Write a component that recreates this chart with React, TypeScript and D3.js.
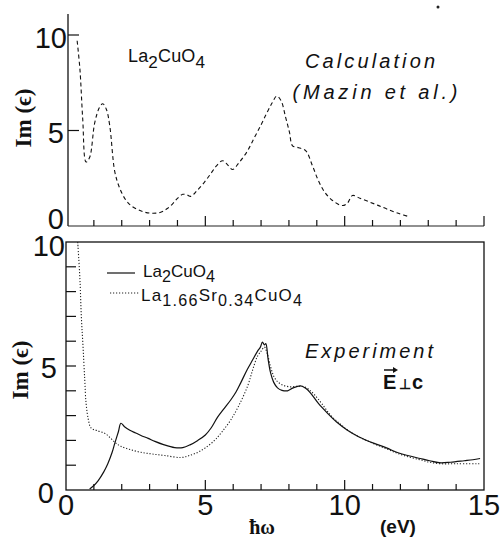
import React from "react";
import * as d3 from "d3";

// ---- Data ----
const calcE = [0.40, 0.50, 0.60, 0.72, 0.85, 1.03, 1.20, 1.32, 1.45, 1.57, 1.75, 1.93, 2.15, 2.35, 2.70, 3.05, 3.40, 3.65, 3.85, 4.00, 4.19, 4.35, 4.48, 4.70, 4.97, 5.20, 5.40, 5.62, 5.80, 5.98, 6.20, 6.50, 6.75, 7.00, 7.20, 7.40, 7.56, 7.72, 7.88, 8.02, 8.13, 8.35, 8.60, 8.84, 9.05, 9.27, 9.55, 9.92, 10.10, 10.28, 10.55, 10.92, 11.20, 11.53, 11.95, 12.35];
const calcIm = [9.7, 8.2, 5.6, 3.35, 3.6, 5.4, 6.2, 6.4, 6.1, 5.25, 2.85, 1.97, 1.35, 1.05, 0.78, 0.67, 0.72, 0.93, 1.2, 1.45, 1.66, 1.62, 1.55, 1.85, 2.3, 2.75, 3.15, 3.42, 3.2, 2.96, 3.3, 3.9, 4.6, 5.3, 5.9, 6.45, 6.8, 6.55, 5.7, 4.9, 4.2, 4.1, 3.95, 3.17, 2.4, 1.8, 1.35, 1.07, 1.2, 1.6, 1.45, 1.24, 1.08, 0.88, 0.65, 0.47];

const laE = [0.85, 1.0, 1.15, 1.35, 1.5, 1.65, 1.75, 1.88, 1.97, 2.1, 2.29, 2.5, 2.69, 2.95, 3.19, 3.5, 3.9, 4.19, 4.45, 4.73, 5.0, 5.2, 5.44, 5.65, 5.91, 6.1, 6.27, 6.5, 6.7, 6.87, 6.97, 7.05, 7.12, 7.17, 7.25, 7.34, 7.45, 7.59, 7.75, 7.95, 8.15, 8.42, 8.6, 8.77, 9.05, 9.38, 9.7, 10.1, 10.5, 11.06, 11.5, 11.89, 12.3, 12.71, 13.05, 13.39, 13.8, 14.29, 14.6, 14.86];
const laIm = [0.04, 0.18, 0.37, 0.72, 1.06, 1.5, 1.88, 2.35, 2.69, 2.55, 2.41, 2.3, 2.2, 2.08, 1.96, 1.83, 1.71, 1.71, 1.82, 2.0, 2.22, 2.49, 2.94, 3.25, 3.63, 3.95, 4.32, 4.85, 5.25, 5.59, 5.75, 5.96, 5.85, 5.9, 5.3, 4.73, 4.35, 4.12, 4.02, 4.0, 4.12, 4.2, 4.1, 3.92, 3.5, 3.1, 2.75, 2.41, 2.15, 1.88, 1.7, 1.51, 1.38, 1.27, 1.18, 1.1, 1.12, 1.18, 1.22, 1.27];

const srE = [0.42, 0.5, 0.55, 0.61, 0.67, 0.72, 0.8, 0.9, 1.1, 1.4, 1.61, 1.8, 1.97, 2.3, 2.69, 3.1, 3.54, 4.12, 4.4, 4.73, 5.0, 5.33, 5.6, 5.91, 6.2, 6.52, 6.7, 6.87, 7.0, 7.12, 7.22, 7.34, 7.45, 7.59, 7.8, 8.06, 8.3, 8.56, 8.75, 8.92, 9.2, 9.49, 9.8, 10.1, 10.5, 11.06, 11.5, 11.89, 12.3, 12.71, 13.05, 13.43, 14.0, 14.86];
const srIm = [10.0, 8.5, 7.0, 5.8, 4.5, 3.5, 2.85, 2.5, 2.4, 2.28, 2.08, 1.88, 1.76, 1.63, 1.52, 1.45, 1.39, 1.31, 1.38, 1.52, 1.7, 2.0, 2.35, 2.82, 3.4, 4.2, 4.85, 5.39, 5.6, 5.76, 5.5, 4.98, 4.6, 4.37, 4.22, 4.16, 4.18, 4.16, 4.02, 3.84, 3.45, 3.02, 2.7, 2.42, 2.15, 1.86, 1.66, 1.48, 1.33, 1.22, 1.12, 1.06, 1.06, 1.06];

const xTickLabels = [0, 5, 10, 15];
const topYTicks = [0, 5, 10];
const bottomYTicks = [0, 5, 10];

// ---- Layout ----
const W = 502, H = 537;
const x = d3.scaleLinear().domain([0, 15]).range([66, 484]);
const yTop = d3.scaleLinear().domain([0, 10]).range([226, 35]);
const yBot = d3.scaleLinear().domain([0, 10]).range([490, 242]);

// label placement tweaks (reference layout)
const topLabelPos: Record<number, [number, number]> = { 10: [67, 13], 5: [64, 12], 0: [64, 3] };
const botLabelPos: Record<number, [number, number]> = { 10: [65, 14], 5: [57, 12], 0: [54, 13] };

const SANS = "'Liberation Sans', Arial, Helvetica, sans-serif";
const SERIF = "'Liberation Serif', 'Times New Roman', serif";

type Part = { t: string; s?: "sub" | "norm" };
function Formula({ parts, x0, y0, size, len }: { parts: Part[]; x0: number; y0: number; size: number; len?: number }) {
  let cur = 0;
  const spans = parts.map((p, i) => {
    const target = p.s === "sub" ? size * 0.32 : 0;
    const dy = target - cur;
    cur = target;
    return (
      <tspan key={i} dy={dy} fontSize={p.s === "sub" ? size * 0.95 : size}>
        {p.t}
      </tspan>
    );
  });
  return (
    <text x={x0} y={y0} fontFamily={SANS} fontSize={size} fill="#111"
      textLength={len} lengthAdjust={len ? "spacing" : undefined}>
      {spans}
    </text>
  );
}

export default function App() {
  const lineTop = d3.line<number>().x((_, i) => x(calcE[i])).y((d) => yTop(d)).curve(d3.curveCatmullRom.alpha(0.5));
  const lineLa = d3.line<number>().x((_, i) => x(laE[i])).y((d) => yBot(d)).curve(d3.curveCatmullRom.alpha(0.5));
  const lineSr = d3.line<number>().x((_, i) => x(srE[i])).y((d) => yBot(d)).curve(d3.curveCatmullRom.alpha(0.5));

  const units = d3.range(0, 16);
  const tickFont = { fontFamily: SANS, fontSize: 29, fontWeight: 300, fill: "#111" } as const;

  return (
    <div style={{ position: "fixed", left: 0, top: 0 }}>
      <svg width={W} height={H} style={{ display: "block", background: "#fff" }}>
        {/* ===== Top panel ===== */}
        <line x1={x(0) + 2} x2={x(0) + 2} y1={14} y2={yTop(0)} stroke="#111" strokeWidth={1.3} />
        <line x1={x(0) + 2} x2={x(15)} y1={yTop(0)} y2={yTop(0)} stroke="#222" strokeWidth={1.2} />
        {topYTicks.filter((d) => d > 0).map((d) => (
          <line key={d} x1={x(0) + 2} x2={x(0) + 13} y1={yTop(d)} y2={yTop(d)} stroke="#111" strokeWidth={1.2} />
        ))}
        {units.filter((u) => u > 0).map((u) => (
          <line key={u} x1={x(u)} x2={x(u)} y1={yTop(0)} y2={yTop(0) - (u % 5 === 0 ? 10 : 6)} stroke="#111" strokeWidth={1.2} />
        ))}
        {topYTicks.map((d) => (
          <text key={d} x={topLabelPos[d][0]} y={yTop(d) + topLabelPos[d][1]} textAnchor="end" {...tickFont}>{d}</text>
        ))}
        <text transform={`translate(31,118) rotate(-90)`} textAnchor="middle" fontFamily={SERIF} fontSize={23} fontWeight="bold" fill="#111">Im (ϵ)</text>
        <path d={lineTop(calcIm) || ""} fill="none" stroke="#111" strokeWidth={1.1} strokeDasharray="4,3" />
        <Formula parts={[{ t: "La" }, { t: "2", s: "sub" }, { t: "CuO" }, { t: "4", s: "sub" }]} x0={128} y0={62} size={18} len={77} />
        <text x={370} y={68} textAnchor="middle" fontFamily={SANS} fontStyle="italic" fontSize={20} fill="#111" textLength={130} lengthAdjust="spacing">Calculation</text>
        <text x={375} y={99} textAnchor="middle" fontFamily={SANS} fontStyle="italic" fontSize={20} fill="#111" textLength={165} lengthAdjust="spacing">(Mazin et al.)</text>
        <circle cx={438} cy={7} r={1.5} fill="#222" />

        {/* ===== Bottom panel ===== */}
        <rect x={x(0)} y={yBot(10)} width={x(15) - x(0)} height={yBot(0) - yBot(10)} fill="none" stroke="#111" strokeWidth={1.3} />
        {d3.range(1, 10).map((d) => (
          <line key={d} x1={x(0)} x2={x(0) + 10} y1={yBot(d)} y2={yBot(d)} stroke="#111" strokeWidth={1.2} />
        ))}
        {units.filter((u) => u > 0 && u < 15).map((u) => (
          <line key={u} x1={x(u)} x2={x(u)} y1={yBot(0)} y2={yBot(0) - (u % 5 === 0 ? 10 : 6)} stroke="#111" strokeWidth={1.2} />
        ))}
        {bottomYTicks.map((d) => (
          <text key={d} x={botLabelPos[d][0]} y={yBot(d) + botLabelPos[d][1]} textAnchor="end" {...tickFont}>{d}</text>
        ))}
        {xTickLabels.map((d) => (
          <text key={d} x={x(d)} y={515} textAnchor="middle" {...tickFont}>{d}</text>
        ))}
        <text transform={`translate(28,370) rotate(-90)`} textAnchor="middle" fontFamily={SERIF} fontSize={23} fontWeight="bold" fill="#111">Im (ϵ)</text>
        <text x={262} y={534} textAnchor="middle" fontFamily={SERIF} fontSize={20} fontWeight="bold" fill="#111">ħω</text>
        <text x={398} y={533} textAnchor="middle" fontFamily={SANS} fontSize={19} fontWeight="bold" fill="#111">(eV)</text>

        <defs>
          <clipPath id="clipBot">
            <rect x={x(0)} y={yBot(10)} width={x(15) - x(0)} height={yBot(0) - yBot(10)} />
          </clipPath>
        </defs>
        <g clipPath="url(#clipBot)">
          <path d={lineSr(srIm) || ""} fill="none" stroke="#222" strokeWidth={1.1} strokeDasharray="1.2,1.8" />
          <path d={lineLa(laIm) || ""} fill="none" stroke="#111" strokeWidth={1.2} />
        </g>

        {/* legend */}
        <line x1={107} x2={135} y1={273} y2={273} stroke="#111" strokeWidth={1.2} />
        <line x1={110} x2={140} y1={293} y2={293} stroke="#222" strokeWidth={1.1} strokeDasharray="1.2,1.8" />
        <Formula parts={[{ t: "La" }, { t: "2", s: "sub" }, { t: "CuO" }, { t: "4", s: "sub" }]} x0={143} y0={277} size={17} len={72} />
        <Formula parts={[{ t: "La" }, { t: "1.66", s: "sub" }, { t: "Sr" }, { t: "0.34", s: "sub" }, { t: "CuO" }, { t: "4", s: "sub" }]} x0={141} y0={301} size={17} len={161} />

        <text x={369} y={358} textAnchor="middle" fontFamily={SANS} fontStyle="italic" fontSize={20} fill="#111" textLength={128} lengthAdjust="spacing">Experiment</text>
        <text x={383} y={389} fontFamily={SANS} fontWeight="bold" fontSize={20} fill="#111">E</text>
        <text x={399} y={389} fontFamily={SANS} fontWeight="bold" fontSize={14} fill="#111">⊥</text>
        <text x={412} y={389} fontFamily={SANS} fontWeight="bold" fontSize={20} fill="#111">c</text>
        <line x1={384} x2={396} y1={370} y2={370} stroke="#111" strokeWidth={1.5} />
        <path d="M393,367 L398,370 L393,373 Z" fill="#111" />
      </svg>
    </div>
  );
}
